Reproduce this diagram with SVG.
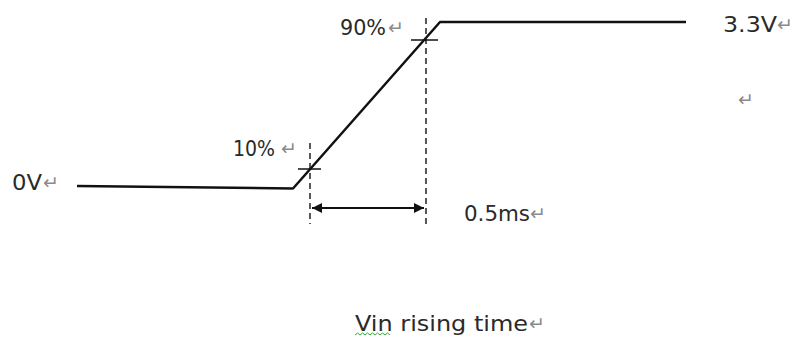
<svg xmlns="http://www.w3.org/2000/svg" width="792" height="338" viewBox="0 0 792 338">
<style>
.t{font-family:"DejaVu Sans","Liberation Sans",sans-serif;font-size:21px;fill:#2a2a2a}
.r{font-family:"DejaVu Sans",sans-serif;font-size:19px;fill:#8a8a8a}
.sig{fill:none;stroke:#111;stroke-width:2.5;stroke-linejoin:round}
.dash{stroke:#222;stroke-width:1.5;stroke-dasharray:6,4}
.tick{stroke:#111;stroke-width:1.5}
</style>
<defs>
<marker id="ah" viewBox="0 0 10 10" refX="10" refY="5" markerWidth="5" markerHeight="5" orient="auto-start-reverse">
<path d="M0,0 L10,5 L0,10 z" fill="#111"/>
</marker>
</defs>
<rect width="792" height="338" fill="#fff"/>
<g id="connectors">
<polyline id="signal" class="sig" points="77,186 293,188.5 440,22 686,22"/>
<line class="dash" x1="310" y1="143" x2="310" y2="224"/>
<line class="dash" x1="426" y1="18" x2="426" y2="224"/>
<line class="tick" x1="298" y1="169" x2="321" y2="169"/>
<line class="tick" x1="411" y1="40" x2="438" y2="40"/>
<line stroke="#111" stroke-width="2" x1="312" y1="208" x2="424" y2="208" marker-start="url(#ah)" marker-end="url(#ah)"/>
</g>
<g id="label-0v"><text class="t" x="12" y="190" textLength="30" lengthAdjust="spacingAndGlyphs">0V</text><text class="r" x="43" y="189">↵</text></g>
<g id="label-10"><text class="t" x="233" y="156" textLength="42" lengthAdjust="spacingAndGlyphs">10%</text><text class="r" x="281" y="155">↵</text></g>
<g id="label-90"><text class="t" x="340" y="35" textLength="46" lengthAdjust="spacingAndGlyphs">90%</text><text class="r" x="388" y="34">↵</text></g>
<g id="label-33"><text class="t" x="723" y="32" textLength="54" lengthAdjust="spacingAndGlyphs">3.3V</text><text class="r" x="777" y="31">↵</text></g>
<g id="label-empty"><text class="r" x="738" y="106">↵</text></g>
<g id="label-05"><text class="t" x="464" y="221" textLength="66" lengthAdjust="spacingAndGlyphs">0.5ms</text><text class="r" x="530" y="220">↵</text></g>
<g id="caption">
<text class="t" x="355" y="331" textLength="173" lengthAdjust="spacingAndGlyphs">Vin rising time</text><text class="r" x="529" y="330">↵</text>
<path d="M355,335 l2.5,-2 l2.5,2 l2.5,-2 l2.5,2 l2.5,-2 l2.5,2 l2.5,-2 l2.5,2 l2.5,-2 l2.5,2 l2.5,-2 l2.5,2 l2.5,-2 l2.5,2" fill="none" stroke="#3a3" stroke-width="1"/>
</g>
</svg>
